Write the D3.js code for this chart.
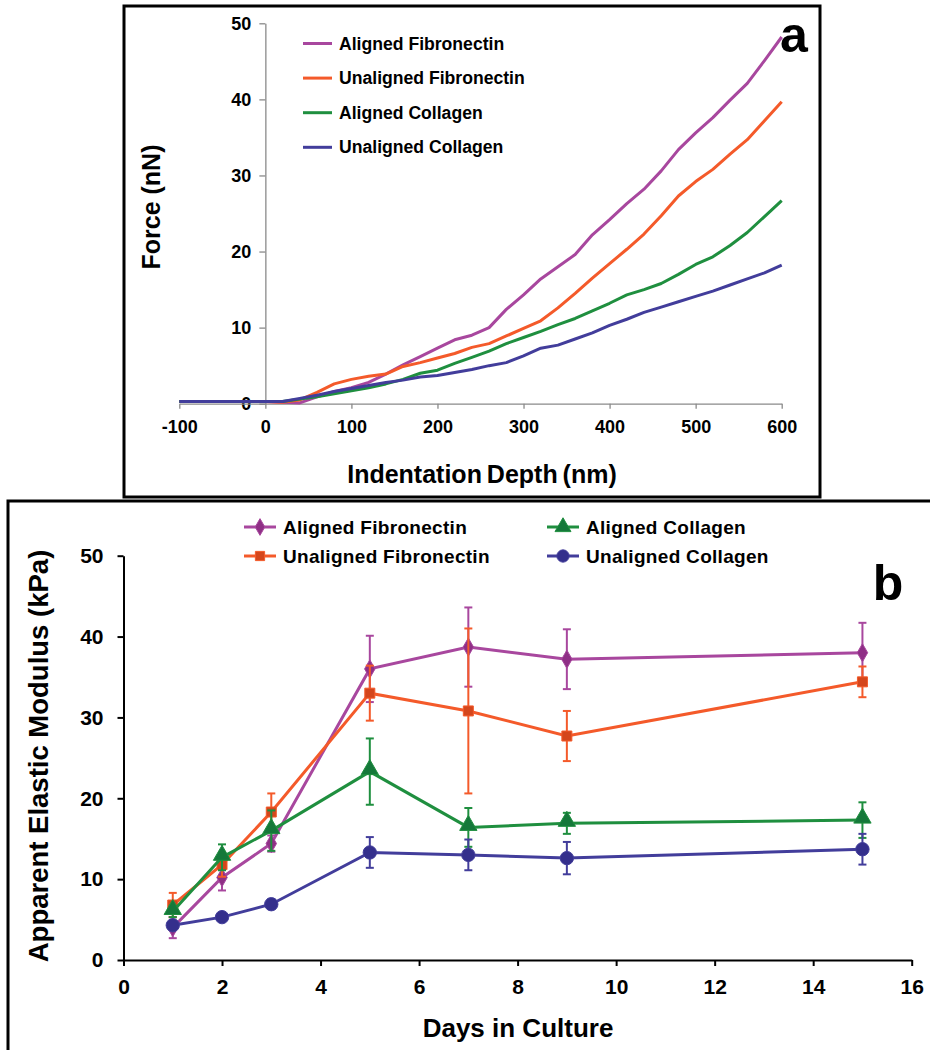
<!DOCTYPE html>
<html>
<head>
<meta charset="utf-8">
<script src="https://cdn.jsdelivr.net/npm/d3@7"></script>
<style>
  body { margin: 0; background: #fff; }
  svg { display: block; font-family: "Liberation Sans", Arial, sans-serif; font-weight: bold; }
</style>
</head>
<body>
<svg id="chart" width="930" height="1050"></svg>
<script>
// ---- panel a: force curves ----
var depth = [-100, -50, 0, 20, 40, 60, 80, 100, 120, 140, 160, 180, 200, 220, 240, 260, 280,
  300, 320, 340, 360, 380, 400, 420, 440, 460, 480, 500, 520, 540, 560, 580, 600];
var forceAlignedFn = [0.3, 0.3, 0.3, 0.2, 0.1, 0.9, 1.6, 2.1, 2.8, 3.9, 5.1, 6.2, 7.3, 8.4, 9.0, 10.0, 12.4,
  14.3, 16.4, 18.0, 19.6, 22.2, 24.2, 26.3, 28.2, 30.6, 33.4, 35.6, 37.6, 39.9, 42.1, 45.1, 48.2];
var forceUnalignedFn = [0.3, 0.3, 0.3, 0.2, 0.5, 1.5, 2.6, 3.2, 3.6, 3.9, 4.9, 5.4, 6.0, 6.6, 7.4, 7.9, 8.9,
  9.9, 10.9, 12.6, 14.5, 16.5, 18.4, 20.3, 22.3, 24.7, 27.3, 29.2, 30.8, 32.8, 34.7, 37.2, 39.7];
var forceAlignedCol = [0.3, 0.3, 0.3, 0.3, 0.6, 0.9, 1.3, 1.7, 2.1, 2.6, 3.2, 4.0, 4.4, 5.3, 6.1, 6.9, 7.9,
  8.7, 9.5, 10.4, 11.2, 12.2, 13.2, 14.3, 15.0, 15.8, 17.0, 18.3, 19.3, 20.8, 22.5, 24.6, 26.7];
var forceUnalignedCol = [0.3, 0.3, 0.3, 0.3, 0.7, 1.1, 1.6, 2.0, 2.4, 2.8, 3.1, 3.5, 3.7, 4.1, 4.5, 5.0, 5.4,
  6.3, 7.3, 7.7, 8.5, 9.3, 10.3, 11.1, 12.0, 12.7, 13.4, 14.1, 14.8, 15.6, 16.4, 17.2, 18.2];
var depthTicks = [-100, 0, 100, 200, 300, 400, 500, 600];
var forceTicks = [0, 10, 20, 30, 40, 50];

// ---- panel b: elastic modulus ----
var days = [1, 2, 3, 5, 7, 9, 15];
var modAlignedFn = [4.0, 10.2, 14.4, 36.0, 38.7, 37.2, 38.0];
var errAlignedFn = [1.3, 1.6, 1.0, 4.1, 4.9, 3.7, 3.7];
var modUnalignedFn = [6.8, 11.8, 18.3, 33.0, 30.8, 27.7, 34.4];
var errUnalignedFn = [1.5, 1.5, 2.3, 3.4, 10.2, 3.1, 1.9];
var modAlignedCol = [6.0, 12.7, 16.0, 23.3, 16.4, 16.9, 17.3];
var errAlignedCol = [0.7, 1.6, 2.5, 4.1, 2.4, 1.3, 2.2];
var modUnalignedCol = [4.3, 5.3, 6.9, 13.3, 13.0, 12.6, 13.7];
var errUnalignedCol = [0.4, 0.3, 0.6, 1.9, 1.9, 2.0, 1.9];
var dayTicks = [0, 2, 4, 6, 8, 10, 12, 14, 16];
var modTicks = [0, 10, 20, 30, 40, 50];

var seriesNames = ["Aligned Fibronectin", "Unaligned Fibronectin", "Aligned Collagen", "Unaligned Collagen"];
var lineColors = ["#a8479e", "#f45a2a", "#1f8f3f", "#423d9b"];
var markColors = ["#8f2f86", "#d4461c", "#15783a", "#342f8c"];
var markShapes = [d3.symbolDiamond, d3.symbolSquare, d3.symbolTriangle, d3.symbolCircle];
var markSizes = [95, 100, 130, 140];

var plain = function (d) { return String(d); }; // keep the hyphen in "-100"

var svg = d3.select("#chart");

// frames
svg.append("rect").attr("x", 8).attr("y", 501).attr("width", 1000).attr("height", 700)
  .attr("fill", "#fff").attr("stroke", "#000").attr("stroke-width", 3);
svg.append("rect").attr("x", 124).attr("y", 6).attr("width", 696).attr("height", 491)
  .attr("fill", "#fff").attr("stroke", "#000").attr("stroke-width", 3);

// ===== panel a =====
var xA = d3.scaleLinear().domain([-100, 600]).range([179.3, 781.7]);
var yA = d3.scaleLinear().domain([0, 50]).range([403.7, 23.3]);

var gA = svg.append("g");
var yAxisA = gA.append("g")
  .attr("transform", "translate(" + xA(0) + ",0)")
  .call(d3.axisLeft(yA).tickValues(forceTicks).tickFormat(plain).tickSize(6).tickSizeOuter(0).tickPadding(8));
var xAxisA = gA.append("g")
  .attr("transform", "translate(0," + yA(0) + ")")
  .call(d3.axisBottom(xA).tickValues(depthTicks).tickFormat(plain).tickSize(5).tickSizeOuter(0).tickPadding(12));
[yAxisA, xAxisA].forEach(function (ax) {
  ax.selectAll("path, line").attr("stroke", "#8a8a8a").attr("stroke-width", 1.3);
  ax.selectAll("text").attr("fill", "#000").style("font-size", "18px").style("font-weight", "bold")
    .style("font-family", "Liberation Sans, Arial, sans-serif");
});

var forceSets = [forceAlignedFn, forceUnalignedFn, forceAlignedCol, forceUnalignedCol];
var lineA = d3.line().x(function (d) { return xA(d[0]); }).y(function (d) { return yA(d[1]); });
forceSets.forEach(function (vals, i) {
  var pts = depth.map(function (x, j) { return [x, vals[j]]; });
  gA.append("path").datum(pts).attr("d", lineA)
    .attr("fill", "none").attr("stroke", lineColors[i]).attr("stroke-width", 3)
    .attr("stroke-linejoin", "round");
});

// legend a
seriesNames.forEach(function (name, i) {
  var y = 43.5 + i * 34.6;
  gA.append("line").attr("x1", 303).attr("x2", 332).attr("y1", y).attr("y2", y)
    .attr("stroke", lineColors[i]).attr("stroke-width", 3);
  gA.append("text").attr("x", 339).attr("y", y + 6).style("font-size", "17.6px").text(name);
});

gA.append("text").attr("transform", "translate(160,207) rotate(-90)")
  .attr("text-anchor", "middle").style("font-size", "25px").text("Force (nN)");
gA.append("text").attr("x", 482).attr("y", 483).attr("text-anchor", "middle")
  .style("font-size", "25px").style("word-spacing", "-2px").text("Indentation Depth (nm)");
gA.append("text").attr("x", 794).attr("y", 52).attr("text-anchor", "middle")
  .style("font-size", "50px").text("a");

// ===== panel b =====
var xB = d3.scaleLinear().domain([0, 16]).range([123.5, 911.7]);
var yB = d3.scaleLinear().domain([0, 50]).range([960, 555.7]);

var gB = svg.append("g");
var yAxisB = gB.append("g")
  .attr("transform", "translate(" + xB(0) + ",0)")
  .call(d3.axisLeft(yB).tickValues(modTicks).tickFormat(plain).tickSize(6).tickSizeOuter(0).tickPadding(14));
var xAxisB = gB.append("g")
  .attr("transform", "translate(0," + yB(0) + ")")
  .call(d3.axisBottom(xB).tickValues(dayTicks).tickFormat(plain).tickSize(6).tickSizeOuter(0).tickPadding(13));
[yAxisB, xAxisB].forEach(function (ax) {
  ax.selectAll("path, line").attr("stroke", "#000").attr("stroke-width", 2);
  ax.selectAll("text").attr("fill", "#000").style("font-size", "21px").style("font-weight", "bold")
    .style("font-family", "Liberation Sans, Arial, sans-serif");
});

var modSets = [modAlignedFn, modUnalignedFn, modAlignedCol, modUnalignedCol];
var errSets = [errAlignedFn, errUnalignedFn, errAlignedCol, errUnalignedCol];
var lineB = d3.line().x(function (d) { return xB(d.day); }).y(function (d) { return yB(d.v); });

modSets.forEach(function (vals, i) {
  var pts = days.map(function (d, j) { return { day: d, v: vals[j], e: errSets[i][j] }; });
  var g = gB.append("g");
  // error bars
  pts.forEach(function (p) {
    var x = xB(p.day), y1 = yB(p.v - p.e), y2 = yB(p.v + p.e);
    g.append("line").attr("x1", x).attr("x2", x).attr("y1", y1).attr("y2", y2)
      .attr("stroke", lineColors[i]).attr("stroke-width", 2);
    [y1, y2].forEach(function (yy) {
      g.append("line").attr("x1", x - 4).attr("x2", x + 4).attr("y1", yy).attr("y2", yy)
        .attr("stroke", lineColors[i]).attr("stroke-width", 2);
    });
  });
  g.append("path").datum(pts).attr("d", lineB)
    .attr("fill", "none").attr("stroke", lineColors[i]).attr("stroke-width", 3);
  g.selectAll(".mk").data(pts).enter().append("path")
    .attr("transform", function (p) {
      var dy = markShapes[i] === d3.symbolTriangle ? -2 : 0;
      return "translate(" + xB(p.day) + "," + (yB(p.v) + dy) + ")";
    })
    .attr("d", d3.symbol().type(markShapes[i]).size(markSizes[i]))
    .attr("fill", markColors[i]).attr("stroke", lineColors[i]).attr("stroke-width", 1);
});

// legend b
seriesNames.forEach(function (name, i) {
  var col = i === 0 || i === 1 ? 0 : 1;
  var row = i === 0 || i === 2 ? 0 : 1;
  var x0 = col === 0 ? 244 : 547;
  var y = 527 + row * 29;
  gB.append("line").attr("x1", x0).attr("x2", x0 + 32).attr("y1", y).attr("y2", y)
    .attr("stroke", lineColors[i]).attr("stroke-width", 3);
  gB.append("path").attr("transform", "translate(" + (x0 + 16) + "," + y + ")")
    .attr("d", d3.symbol().type(markShapes[i]).size(markSizes[i] * 0.85))
    .attr("fill", markColors[i]).attr("stroke", lineColors[i]).attr("stroke-width", 1);
  gB.append("text").attr("x", x0 + 39).attr("y", y + 7).style("font-size", "19px")
    .style("letter-spacing", "0.3px").text(name);
});

gB.append("text").attr("transform", "translate(48,756) rotate(-90)")
  .attr("text-anchor", "middle").style("font-size", "27.5px").text("Apparent Elastic Modulus (kPa)");
gB.append("text").attr("x", 518).attr("y", 1037).attr("text-anchor", "middle")
  .style("font-size", "26px").text("Days in Culture");
gB.append("text").attr("x", 888).attr("y", 600).attr("text-anchor", "middle")
  .style("font-size", "50px").text("b");
</script>
</body>
</html>
